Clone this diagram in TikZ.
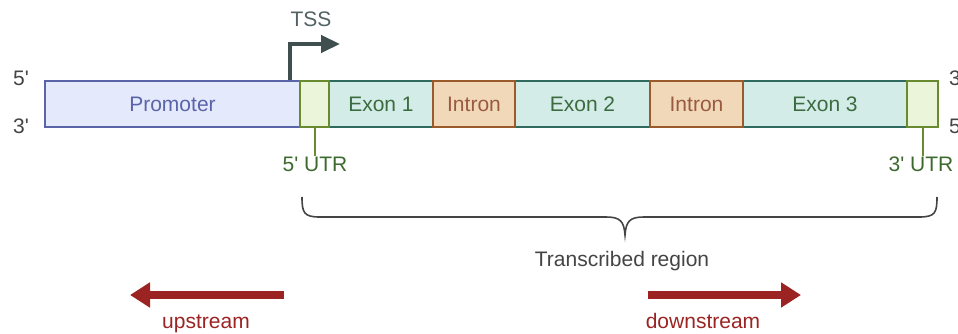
\documentclass[tikz,border=0pt]{standalone}
\usepackage{fontspec}
% a separate family keeps the apostrophes straight (no TeX ligature mapping)
\newfontfamily\labfont{Liberation Sans}
\usetikzlibrary{arrows.meta}

\definecolor{promfill}{HTML}{E4E9FB}
\definecolor{promline}{HTML}{5A64A8}
\definecolor{utrfill}{HTML}{EAF5D9}
\definecolor{utrline}{HTML}{6A8A30}
\definecolor{exonfill}{HTML}{D3ECE8}
\definecolor{exonline}{HTML}{2E6B5E}
\definecolor{exontext}{HTML}{3B6B3F}
\definecolor{intronfill}{HTML}{F0D8B8}
\definecolor{intronline}{HTML}{9A5A2A}
\definecolor{introntext}{HTML}{9A5A40}
\definecolor{tssgray}{HTML}{3F4F4F}
\definecolor{dirred}{HTML}{9B2423}
\definecolor{labelgray}{HTML}{444444}
\definecolor{utrtext}{HTML}{3C6A2E}

\tikzset{
  txt/.style={font=\labfont\fontsize{21}{24}\selectfont, inner sep=0pt},
  lab/.style={txt, anchor=base},
  seg/.style={txt, anchor=north west, minimum height=46pt, line width=2pt},
  exonbox/.style={seg, fill=exonfill, draw=exonline, text=exontext},
  intronbox/.style={seg, fill=intronfill, draw=intronline, text=introntext},
  utrbox/.style={seg, fill=utrfill, draw=utrline},
  utrtick/.style={draw=utrline, line width=2pt},
  dirarrow/.style={draw=dirred, line width=8pt, -{Triangle[length=20pt,width=24pt]}},
}

\begin{document}
\begin{tikzpicture}[x=1pt,y=-1pt]
\useasboundingbox (0,0) rectangle (958,334);

% gene body, exons first so intron and UTR borders sit on top
\node[seg, fill=promfill, draw=promline, text=promline, minimum width=255pt] (promoter) at (44,80) {Promoter};
\node[exonbox, minimum width=104pt] (exon1) at (328,80) {Exon 1};
\node[exonbox, minimum width=135pt] (exon2) at (514,80) {Exon 2};
\node[exonbox, minimum width=164pt] (exon3) at (742,80) {Exon 3};
\node[intronbox, minimum width=82pt] (intron1) at (432,80) {Intron};
\node[intronbox, minimum width=93pt] (intron2) at (649,80) {Intron};
\node[utrbox, minimum width=29pt] (utr5) at (299,80) {};
\node[utrbox, minimum width=31pt] (utr3) at (906,80) {};

% strand ends
\node[lab, text=labelgray] (p5l) at (21,86) {5'};
\node[lab, text=labelgray] (p3l) at (21,134) {3'};
\node[lab, text=labelgray, anchor=base west] (p3r) at (949,86) {3'};
\node[lab, text=labelgray, anchor=base west] (p5r) at (949,134) {5'};

% transcription start site
\coordinate (tssbase) at (290,80);
\coordinate (tsstip) at (340,44);
\draw[tssgray, line width=4.5pt, -{Triangle[length=19pt,width=17pt]}] (tssbase) |- (tsstip);
\node[lab, text=tssgray!90] (tss) at (311,27) {TSS};

% UTR labels
\node[lab, text=utrtext] (utr5lab) at (315,171) {5' UTR};
\node[lab, text=utrtext] (utr3lab) at (921,171) {3' UTR};
\draw[utrtick] (utr5.south) -- (utr5.south |- utr5lab.north);
\draw[utrtick] (utr3.south) -- (utr3.south |- utr3lab.north);

% brace over the transcribed region
\draw[labelgray, line width=1.6pt]
  (302,197) .. controls (302,213) and (304,217) .. (320,217) -- (606,217)
  .. controls (620,217) and (624,221) .. (625,235)
  .. controls (626,221) and (630,217) .. (644,217) -- (919,217)
  .. controls (935,217) and (937,213) .. (937,197);
\node[lab, text=labelgray] (trans) at (622,266) {Transcribed region};

% direction arrows
\coordinate (upstart) at (284,295);
\coordinate (upend) at (130,295);
\coordinate (downstart) at (648,295);
\coordinate (downend) at (801,295);
\draw[dirarrow] (upstart) -- (upend);
\draw[dirarrow] (downstart) -- (downend);
\node[lab, text=dirred] (up) at (206,328) {upstream};
\node[lab, text=dirred] (down) at (703,328) {downstream};
\end{tikzpicture}
\end{document}
